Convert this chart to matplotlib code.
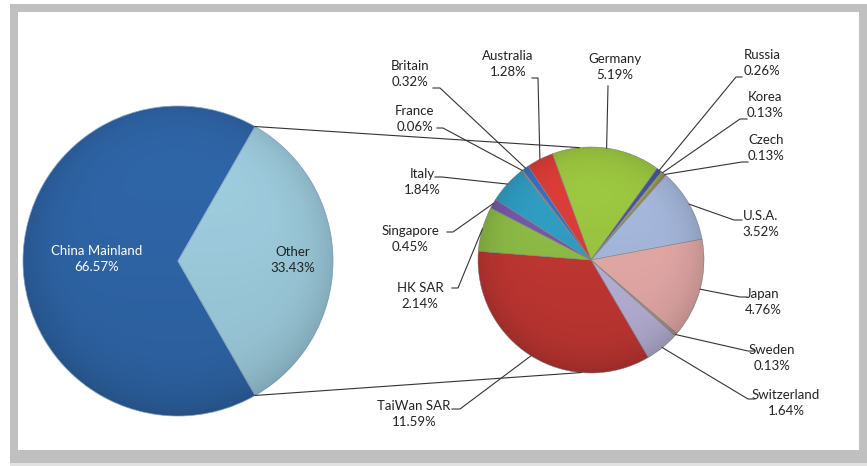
import matplotlib
matplotlib.use('Agg')
import matplotlib.pyplot as plt
from matplotlib.patches import Rectangle, Circle
import numpy as np

plt.rcParams['font.family'] = ['Lato', 'DejaVu Sans']

# 第一個圓餅：大陸 vs 其他
main_labels = ['China Mainland', 'Other']
main_values = [66.57, 33.43]
main_colors = ['#3068AC', '#A2D2E4']

# 第二個圓餅：其他的細分
sub_labels = ['Germany', 'Russia', 'Korea', 'Czech', 'U.S.A.', 'Japan', 'Sweden',
              'Switzerland', 'TaiWan SAR', 'HK SAR', 'Singapore', 'Italy',
              'France', 'Britain', 'Australia']
sub_values = [5.19, 0.26, 0.13, 0.13, 3.52, 4.76, 0.13,
              1.64, 11.59, 2.14, 0.45, 1.84,
              0.06, 0.32, 1.28]
sub_colors = ['#A0CC42', '#4A56A8', '#8DB640', '#A08850', '#AABDE2', '#EAAEAC', '#A89C88',
              '#BCB6DC', '#C63834', '#92C248', '#7A5BB0', '#31A2C8',
              '#E08040', '#3B74C6', '#E23E39']

W, H = 867, 466


def Y(y):
    # 圖片座標 -> 資料座標 (y 向上)
    return H - y


def shade(ax, center, radius):
    # 簡單的立體陰影：下方與邊緣稍暗
    n = 200
    xs = np.linspace(-1, 1, n)
    gx, gy = np.meshgrid(xs, xs)
    rr2 = gx ** 2 + gy ** 2
    alpha = 0.12 * np.clip(rr2, 0, 1) ** 3 + 0.10 * (1 - gy) / 2
    img = np.zeros((n, n, 4))
    img[..., 3] = np.clip(alpha, 0, 1)
    im = ax.imshow(img, extent=[center[0] - radius, center[0] + radius,
                                center[1] - radius, center[1] + radius],
                   origin='lower', zorder=2, interpolation='bilinear')
    clip = Circle(center, radius, transform=ax.transData)
    im.set_clip_path(clip)


# 標籤位置 (文字中心, 折線起點, 短橫線方向)
label_layout = {
    'Germany':     ((615, 67), (608, 86), 0),
    'Australia':   ((508, 64), (538, 78), -6),
    'Britain':     ((410, 74), (440, 88), -7),
    'France':      ((415, 119), (443, 128), -6),
    'Italy':       ((422, 182), (442, 177), -7),
    'Singapore':   ((410, 239), (453, 232), -6),
    'HK SAR':      ((420, 296), (458, 288), -6),
    'TaiWan SAR':  ((414, 414), (460, 409), -8),
    'Switzerland': ((786, 403), (748, 399), 7),
    'Sweden':      ((772, 358), (748, 351), 7),
    'Japan':       ((763, 302), (740, 297), 7),
    'U.S.A.':      ((761, 224), (734, 220), 8),
    'Czech':       ((766, 148), (742, 162), 6),
    'Korea':       ((765, 105), (740, 119), 7),
    'Russia':      ((762, 63), (736, 77), 6),
}

fig = plt.figure(figsize=(W / 100, H / 100), dpi=100)
ax = fig.add_axes([0, 0, 1, 1])

# 外框
ax.add_patch(Rectangle((0, 0), W, H, facecolor='white', edgecolor='none', zorder=0))
ax.add_patch(Rectangle((10, 0), W - 10, 4, facecolor='#E2E2E2', edgecolor='none', zorder=0))
ax.add_patch(Rectangle((10, Y(463)), W - 10, 463 - 4, facecolor='#C0C0C0', edgecolor='none', zorder=0))
ax.add_patch(Rectangle((18, Y(450)), 859 - 18, 450 - 12, facecolor='white', edgecolor='none', zorder=0))

# 左邊大圓餅
lc, lr = (178, Y(261)), 155
half = main_values[1] / sum(main_values) * 360 / 2
ax.pie(main_values, colors=main_colors, startangle=half, radius=lr, center=lc,
       frame=True, wedgeprops=dict(edgecolor='#8fb0d0', linewidth=0.6))
shade(ax, lc, lr)
ax.text(97, Y(259), f'{main_labels[0]}\n{main_values[0]:.2f}%', color='white',
        ha='center', va='center', fontsize=9.5, linespacing=1.45, zorder=5)
ax.text(293, Y(260), f'{main_labels[1]}\n{main_values[1]:.2f}%', color='#222222',
        ha='center', va='center', fontsize=9.5, linespacing=1.45, zorder=5)

# 右邊小圓餅
rc, rr = (591, Y(260)), 113
wedges, _ = ax.pie(sub_values, colors=sub_colors, startangle=110, counterclock=False,
                   radius=rr, center=rc, frame=True,
                   wedgeprops=dict(edgecolor='#8a8a8a', linewidth=0.4))
shade(ax, rc, rr)

# 連接線
a = np.deg2rad(half)
for sgn, ang in [(1, 96), (-1, -95)]:
    p1 = (lc[0] + lr * np.cos(a), lc[1] + sgn * lr * np.sin(a))
    b = np.deg2rad(ang)
    p2 = (rc[0] + rr * np.cos(b), rc[1] + rr * np.sin(b))
    ax.plot([p1[0], p2[0]], [p1[1], p2[1]], color='#333333', lw=0.8, zorder=1)

# 標籤與引線
for w, name, val in zip(wedges, sub_labels, sub_values):
    (tx, ty), (ex, ey), tick = label_layout[name]
    ax.text(tx, Y(ty), f'{name}\n{val:.2f}%', ha='center', va='center',
            fontsize=9.5, linespacing=1.45, color='#222222', zorder=5)
    mid = np.deg2rad((w.theta1 + w.theta2) / 2)
    px, py = rc[0] + rr * np.cos(mid), rc[1] + rr * np.sin(mid)
    ax.plot([ex + tick, ex, px], [Y(ey), Y(ey), py], color='#333333', lw=0.8, zorder=4)

ax.set_xlim(0, W)
ax.set_ylim(0, H)
ax.set_aspect('auto')
ax.axis('off')

fig.savefig('out.png', dpi=100)
